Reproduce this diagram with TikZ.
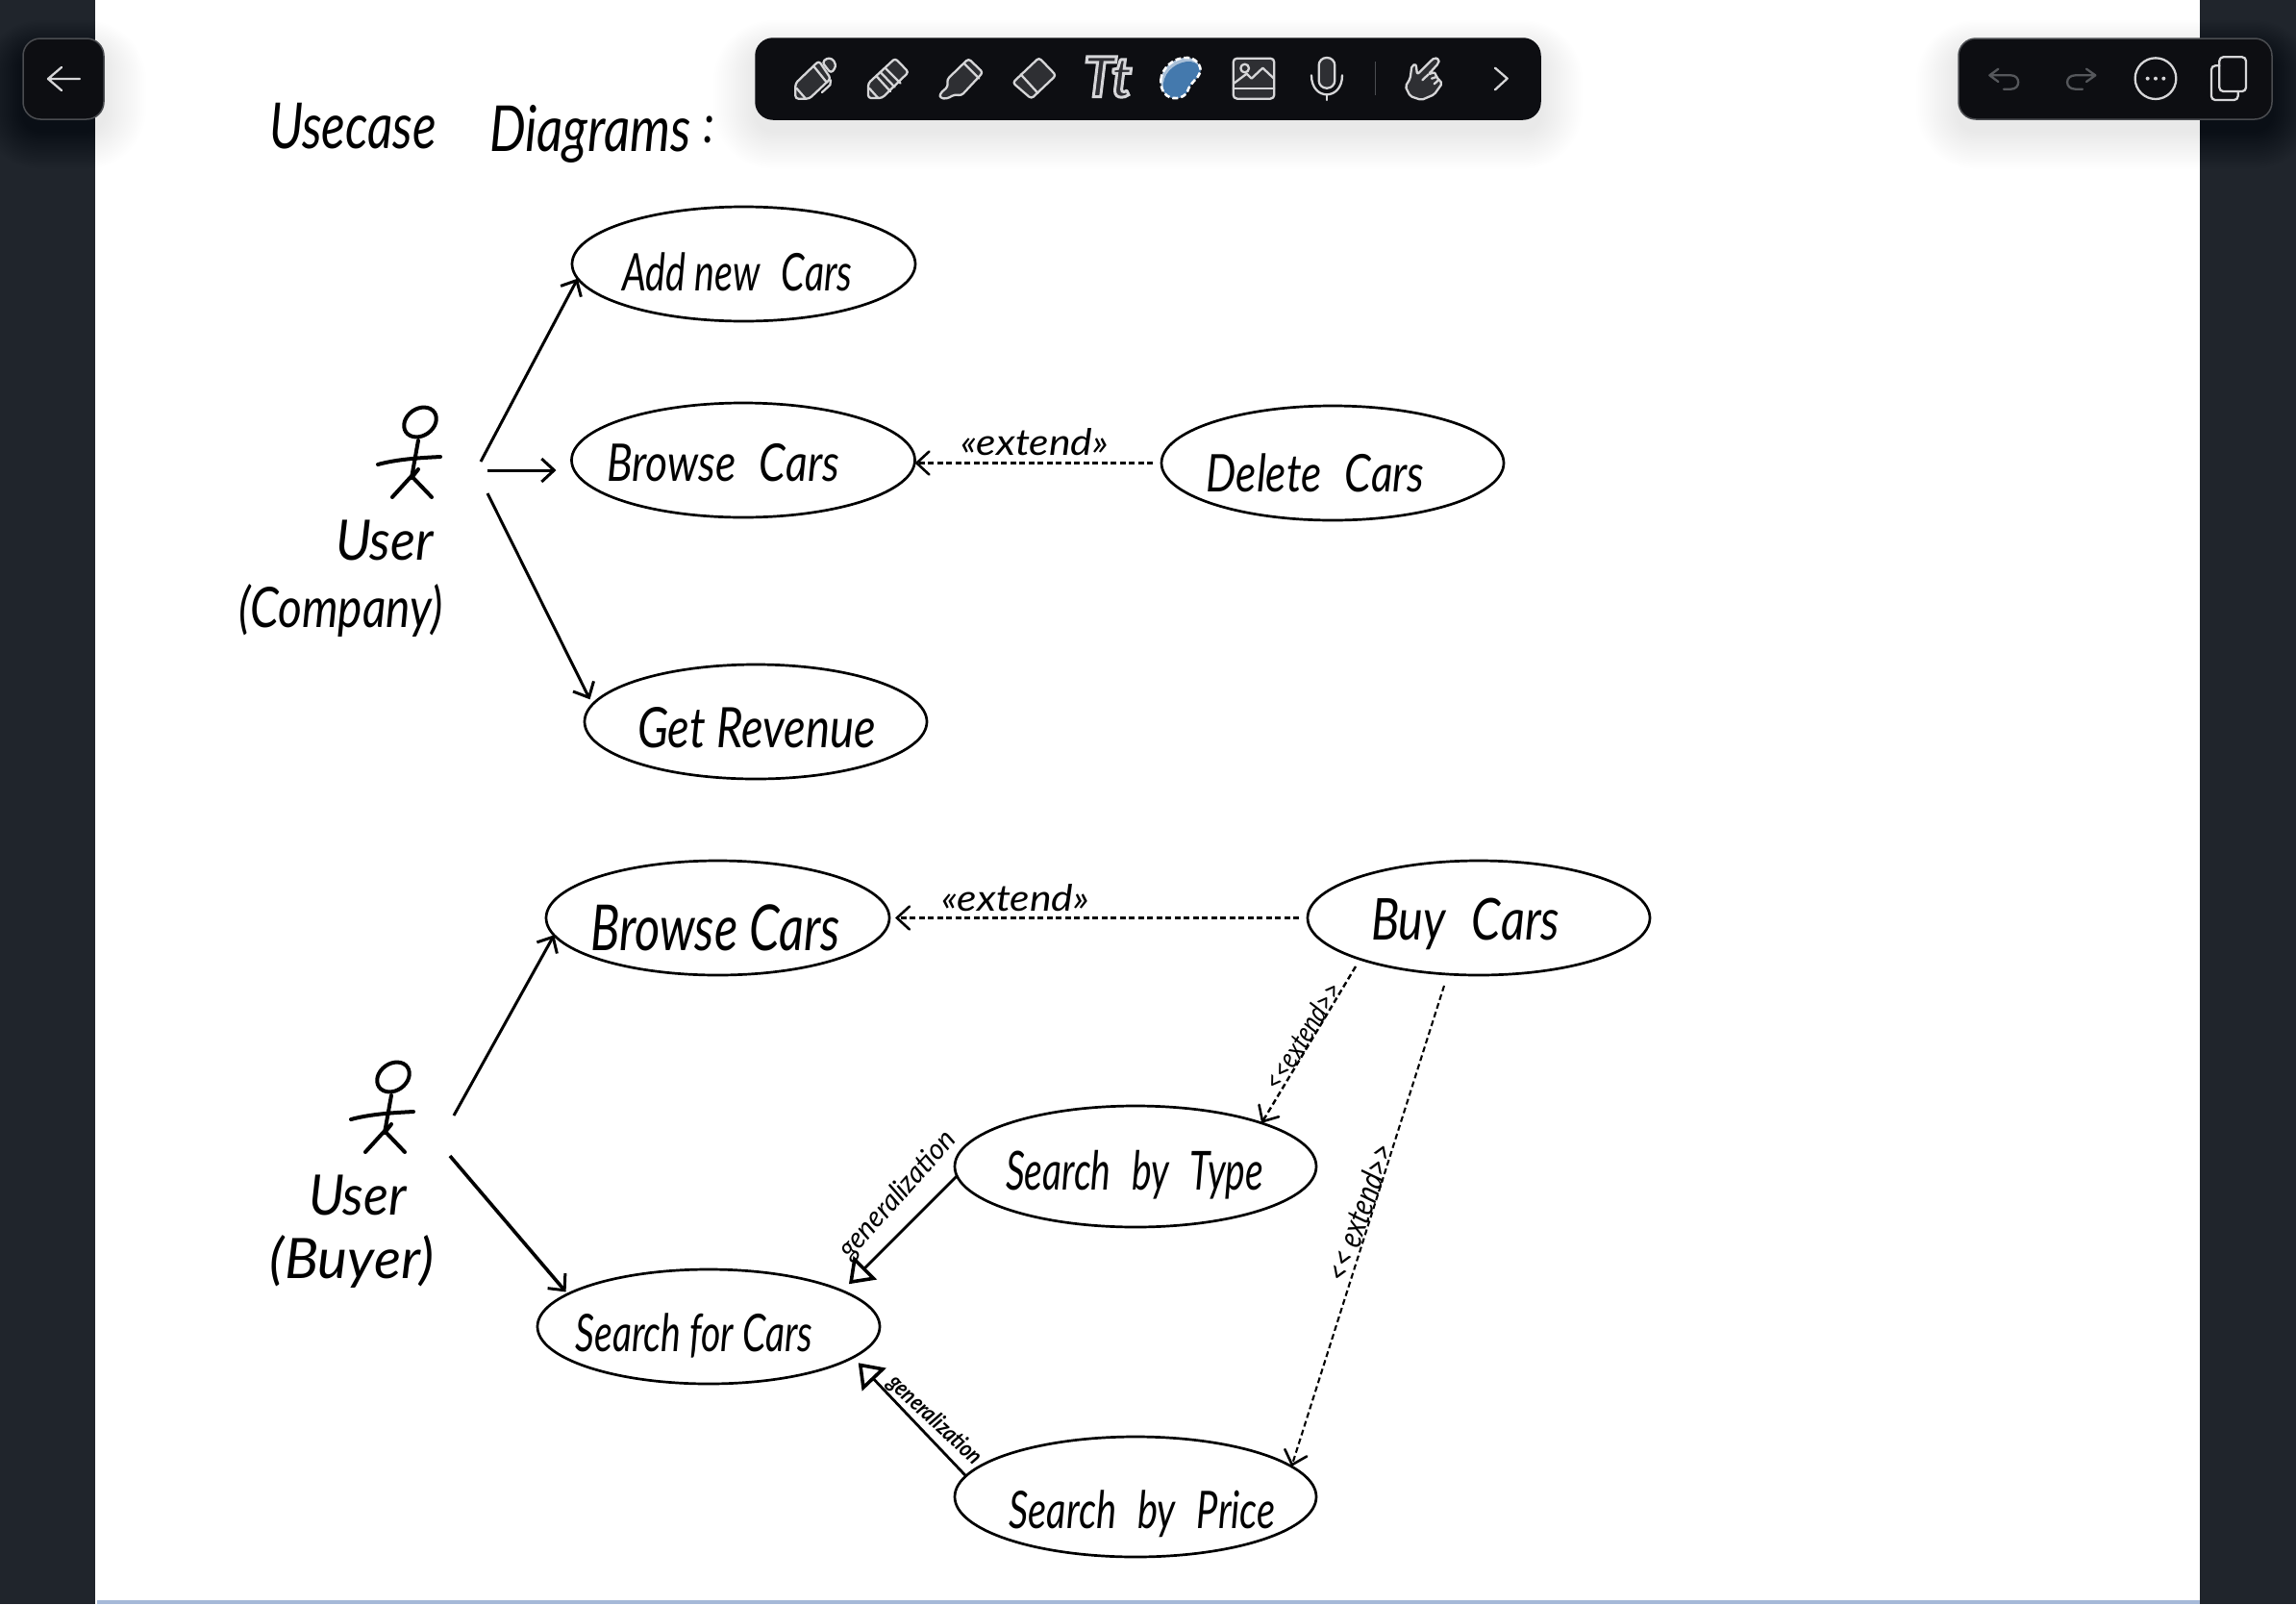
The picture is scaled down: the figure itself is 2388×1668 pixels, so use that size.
\documentclass[tikz,border=0pt]{standalone}
\usepackage{graphicx}
\usepackage{fontspec}
\setmainfont{Lato}
\usetikzlibrary{arrows.meta,shapes.geometric}
\definecolor{sidedark}{HTML}{20252C}
\definecolor{barblack}{HTML}{0D0E12}
\definecolor{barline}{HTML}{4A4C50}
\definecolor{iconl}{HTML}{D6D6D8}
\definecolor{iconf}{HTML}{2E2F33}
\definecolor{icond}{HTML}{55575B}
\definecolor{stripblue}{HTML}{A6B9D8}
\definecolor{lassoblue}{HTML}{4479AD}
\definecolor{lassolight}{HTML}{A9C0D8}
\newcommand\hw[3]{\fontsize{#1}{#1}\selectfont\itshape\resizebox{#2pt}{\height}{#3}}
\newcommand\wgap{\hspace{.55em}}
\newcommand\dropshadow[4]{\foreach \r in {2,4,...,44}{\pgfmathsetmacro\rr{18+\r}\fill[black,opacity=.0042,rounded corners=\rr pt] (#1-\r,#2-\r*.7+12) rectangle (#3+\r,#4+\r*.9+12);}}
\tikzset{
  usecase/.style={draw=black,line width=2.7pt,ellipse,minimum width=#1,inner sep=0pt,outer sep=0pt},
  handtext/.style={inner sep=0pt,text=black,align=center},
  assoc/.style={draw=black,line width=3pt,-{Straight Barb[length=13pt,width=24pt,line width=3pt]}},
  dep/.style={draw=black,line width=2.4pt,dash pattern=on 6pt off 3.5pt,-{Straight Barb[length=13pt,width=24pt,line width=2.6pt,line cap=round]}},
  gen/.style={draw=black,line width=2.8pt,-{Triangle[open,length=24pt,width=34pt,line width=3.6pt]}},
  stick/.style={draw=black,line width=4pt,line cap=round,line join=round},
  toolbar/.style={fill=barblack,draw=barline,line width=1.5pt,rounded corners=18pt},
  ic/.style={draw=iconl,line width=2.3pt,line cap=round,line join=round},
  icfill/.style={ic,fill=iconf,rounded corners=3pt},
  icdim/.style={draw=icond,line width=2.3pt,line cap=round,line join=round},
}
\begin{document}
\begin{tikzpicture}[x=1pt,y=-1pt]
\useasboundingbox (0,0) rectangle (2388,1668);
% page
\fill[sidedark] (0,0) rectangle (2388,1668);
\fill[white] (99,0) rectangle (2288,1668);
\fill[stripblue] (101,1664) rectangle (2288,1668);
% shadows
\dropshadow{24}{40}{108}{124}
\dropshadow{786}{40}{1602}{124}
\dropshadow{2037}{40}{2363}{124}
% toolbars
\path[toolbar] (24,40) rectangle (108,124);
\path[toolbar,draw=barblack] (786,40) rectangle (1602,124);
\path[toolbar] (2037,40) rectangle (2363,124);
% back arrow
\draw[ic] (83,82) -- (50,82) (64,70) -- (50,82) -- (64,94);
% pen, pencil, marker, eraser
\begin{scope}[xshift=800pt,yshift=-40pt,x=.3333pt,y=-.3333pt]
\draw[icfill] (166,75) -- (178,62) -- (196,62) -- (208,80) -- (205,95) -- (192,108) -- cycle;
\draw[icfill] (82,188) -- (82,140) -- (155,70) -- (192,125) -- (125,188) -- cycle;
\draw[ic] (140,88) -- (178,135) (85,155) -- (113,187) (192,130) -- (190,145) -- (165,168);
\draw[icfill] (309,186) -- (309,140) -- (393,62) -- (435,105) -- (352,186) -- cycle;
\draw[ic] (312,155) -- (340,186) (335,118) -- (378,165) (362,92) -- (410,140) (347,105) -- (392,152);
\draw[icfill] (533,186) -- (533,172) -- (558,150) -- (555,128) -- (622,63) -- (667,106) -- (600,178) -- (578,175) -- (555,188) -- cycle;
\draw[ic] (610,80) -- (655,125);
\draw[icfill] (760,138) -- (842,60) -- (895,115) -- (818,188) -- cycle;
\draw[ic] (785,112) -- (838,170);
\end{scope}
% Tt
\node[inner sep=0pt,font=\fontsize{58}{58}\selectfont\bfseries\itshape] (ttic) at (1152,80) {\special{pdf:code q 2 Tr 3 w 0.84 0.84 0.85 RG 0.18 0.18 0.2 rg}Tt\special{pdf:code Q}};
% lasso, image, mic
\begin{scope}[xshift=1110pt,yshift=-40pt,x=.3333pt,y=-.3333pt]
\path[fill=lassolight] (292,130) .. controls (295,90) and (335,58) .. (375,60) .. controls (400,60) and (420,85) .. (415,105) .. controls (410,125) and (385,135) .. (375,165) .. controls (365,190) and (320,195) .. (303,170) .. controls (295,160) and (291,145) .. (292,130) -- cycle;
\path[fill=lassoblue] (300,140) .. controls (305,100) and (345,70) .. (385,72) .. controls (405,75) and (420,90) .. (415,105) .. controls (410,125) and (385,135) .. (375,165) .. controls (365,190) and (320,195) .. (305,170) .. controls (300,160) and (298,150) .. (300,140) -- cycle;
\draw[white,line width=2.6pt,dash pattern=on 6pt off 3pt] (292,130) .. controls (295,90) and (335,58) .. (375,60) .. controls (400,60) and (420,85) .. (415,105) .. controls (410,125) and (385,135) .. (375,165) .. controls (365,190) and (320,195) .. (303,170) .. controls (295,160) and (291,145) .. (292,130) -- cycle;
\draw[ic,fill=iconf,rounded corners=4pt] (518,62) rectangle (646,188);
\draw[ic] (518,157) -- (646,157);
\draw[ic] (520,140) -- (560,110) -- (575,125) -- (610,92) -- (645,125);
\draw[ic] (554,93) circle[radius=13];
\draw[ic,fill=iconf,rounded corners=8pt] (785,60) rectangle (835,155);
\draw[ic] (762,115) .. controls (762,195) and (858,195) .. (858,115);
\draw[ic] (810,176) -- (810,192);
\end{scope}
% separator, hand, chevron
\begin{scope}[xshift=1420pt,yshift=-40pt,x=.3333pt,y=-.3333pt]
\draw[barline,line width=1.4pt] (31,72) -- (31,178);
\draw[icfill,rounded corners=2pt] (125,150) -- (140,125) -- (145,85) -- (158,80) -- (162,112) -- (215,60) -- (231,65) -- (228,78) -- (197,112) -- (217,105) -- (222,120) -- (240,140) -- (215,175) -- (175,192) -- (140,180) -- cycle;
\draw[ic] (197,112) -- (178,130) (207,125) -- (222,120) (215,142) -- (228,130);
\draw[ic] (405,92) -- (443,125) -- (405,160);
\end{scope}
% undo, redo, more, pages
\begin{scope}[xshift=2030pt,yshift=-30pt,x=.3333pt,y=-.3333pt]
\draw[icdim] (145,125) -- (118,145) -- (145,165) (118,145) -- (185,145) .. controls (215,145) and (215,188) .. (185,188) -- (162,188);
\draw[icdim] (420,125) -- (448,145) -- (420,165) (448,145) -- (385,145) .. controls (352,145) and (352,188) .. (385,188) -- (408,188);
\draw[ic] (636,155) circle[radius=64];
\fill[iconl] (611,155) circle[radius=6] (636,155) circle[radius=6] (661,155) circle[radius=6];
\draw[ic,rounded corners=4pt] (835,115) -- (810,115) -- (810,222) -- (893,222) -- (893,195);
\draw[ic,rounded corners=4pt] (835,88) rectangle (918,195);
\end{scope}
% title
\node[handtext] (ttl1) at (367,131) {\hw{66}{174}{Usecase}};
\node[handtext,anchor=base] (ttl2) at (614,157) {\hw{66}{210}{Diagrams}};
\node[handtext] (ttl3) at (737,135) {\hw{56}{12}{:}};
% use cases top
\node[usecase=357pt,minimum height=119pt] (addn) at (773.5,274.5) {};
\node[usecase=357pt,minimum height=119pt] (brow1) at (773,478.5) {};
\node[usecase=356pt,minimum height=119pt] (del) at (1386,481.5) {};
\node[usecase=356pt,minimum height=119pt] (rev) at (786,750.5) {};
\node[handtext] (taddn) at (767,283) {\hw{54}{239}{Add new\wgap Cars}};
\node[handtext] (tbrow1) at (752,481) {\hw{54}{242}{Browse\wgap Cars}};
\node[handtext] (tdel) at (1368,492) {\hw{54}{227}{Delete\wgap Cars}};
\node[handtext] (trev) at (787,757) {\hw{58}{248}{Get Revenue}};
% use cases bottom
\node[usecase=357pt,minimum height=119pt] (brow2) at (746.5,954.5) {};
\node[usecase=356pt,minimum height=119pt] (buy) at (1538,954.5) {};
\node[usecase=376pt,minimum height=126pt] (stype) at (1181,1213) {};
\node[usecase=356pt,minimum height=119pt] (srch) at (737,1379.5) {};
\node[usecase=376pt,minimum height=125pt] (price) at (1181,1556.5) {};
\node[handtext] (tbrow2) at (744,965) {\hw{66}{260}{Browse Cars}};
\node[handtext] (tbuy) at (1524,961) {\hw{60}{196}{Buy\wgap Cars}};
\node[handtext] (tstype) at (1180,1222) {\hw{56}{268}{Search\wgap by\wgap Type}};
\node[handtext] (tsrch) at (722,1389) {\hw{54}{247}{Search for Cars}};
\node[handtext] (tprice) at (1188,1574) {\hw{54}{277}{Search\wgap by\wgap Price}};
% actors
\draw[stick,rotate around={35:(437,439)}] (437,439) ellipse[x radius=18pt,y radius=14pt];
\draw[stick] (435,458) -- (428,497) (393,483) .. controls (415,477) and (440,476) .. (458,475) (435,488) -- (428,497) (408,517) -- (428,495) -- (449,517);
\begin{scope}[xshift=-28pt,yshift=-681pt]
\draw[stick,rotate around={35:(437,439)}] (437,439) ellipse[x radius=18pt,y radius=14pt];
\draw[stick] (435,458) -- (428,497) (393,483) .. controls (415,477) and (440,476) .. (458,475) (435,488) -- (428,497) (408,517) -- (428,495) -- (449,517);
\end{scope}
\node[handtext] (u1) at (400,562) {\hw{58}{102}{User}};
\node[handtext] (u1b) at (355,635) {\hw{58}{212}{(Company)}};
\node[handtext] (u2) at (372,1243) {\hw{58}{102}{User}};
\node[handtext] (u2b) at (366,1312) {\hw{58}{170}{(Buyer)}};
% connector ends
\coordinate (a1a) at (500,480);
\coordinate (a1b) at (507,489);
\coordinate (a1c) at (507,513);
\coordinate (a2a) at (472,1160);
\coordinate (a2b) at (468,1202);
\coordinate (hs) at (1410,1005);
\coordinate (is) at (1502,1025);
% connectors
\draw[assoc] (a1a) -- (addn.185);
\draw[assoc,shorten >=16pt] (a1b) -- (brow1.west |- a1b);
\draw[assoc,shorten >=6pt] (a1c) -- (rev.174.85);
\draw[dep,shorten <=9pt] (del.west) -- (brow1.east |- del.west);
\node[handtext] (lx1) at (1076,460) {\hw{38}{154}{«extend»}};
\draw[assoc] (a2a) -- (brow2.186);
\draw[assoc,line width=3.6pt,shorten >=3pt] (a2b) -- (srch.167.35);
\draw[dep,shorten <=9pt,shorten >=6pt] (buy.west) -- (brow2.east);
\node[handtext] (lx2) at (1056,934) {\hw{38}{154}{«extend»}};
\draw[dep] (hs) -- (stype.19);
\node[handtext,rotate=58] (lx3) at (1355,1077) {\hw{30}{126}{<{}<extend>{}>}};
\draw[dep,line width=2.1pt] (is) -- (price.11.9);
\node[handtext,rotate=70] (lx4) at (1414,1261) {\hw{34}{150}{<{}< extend>{}>}};
\draw[gen,shorten >=10pt] (stype.183.7) -- (srch.15.4);
\node[handtext,rotate=48] (lg1) at (934,1243) {\hw{30}{167}{generalization}};
\draw[gen,shorten >=8pt] (price.173.8) -- (srch.-12);
\node[handtext,rotate=-43] (lg2) at (972,1477) {\hw{24}{124}{\bfseries generalization}};
\end{tikzpicture}
\end{document}
